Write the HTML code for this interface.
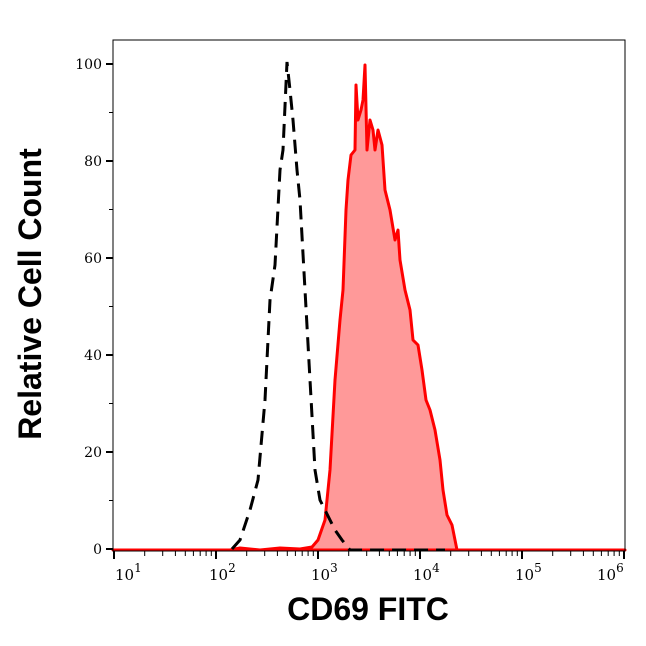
<!DOCTYPE html>
<html><head><style>body{margin:0;background:#fff}</style></head><body>
<svg width="646" height="641" xmlns="http://www.w3.org/2000/svg" font-family="DejaVu Serif, Liberation Serif, serif">
<defs>
<g id="dec" stroke="#000" stroke-width="1">
<line x1="0" y1="551" x2="0" y2="559" stroke-width="2"/>
<line x1="30.7" y1="551" x2="30.7" y2="556"/><line x1="48.7" y1="551" x2="48.7" y2="556"/>
<line x1="61.4" y1="551" x2="61.4" y2="556"/><line x1="71.3" y1="551" x2="71.3" y2="556"/>
<line x1="79.4" y1="551" x2="79.4" y2="556"/><line x1="86.2" y1="551" x2="86.2" y2="556"/>
<line x1="92.1" y1="551" x2="92.1" y2="556"/><line x1="97.3" y1="551" x2="97.3" y2="556"/>
</g>
</defs>
<rect width="646" height="641" fill="#fff"/>
<path d="M113,550 L230,550 L240,548 L260,550 L280,548 L300,549 L312,547 L318,540 L325,520 L330,470 L335,380 L340,320 L343,290 L346,210 L348,180 L351,155 L355,150 L356,85 L358,120 L361,110 L363,100 L365,65 L367,150 L370,120 L373,130 L375,150 L378,130 L382,145 L385,190 L390,210 L395,240 L398,230 L400,260 L405,290 L410,310 L413,340 L418,345 L422,370 L426,400 L430,410 L435,430 L440,460 L443,490 L447,515 L452,525 L457,550 L625,550 Z" fill="#ff9999" stroke="#ff0000" stroke-width="3" stroke-linejoin="round"/>
<path d="M232,549 L240,540 L250,510 L258,480 L265,400 L270,300 L275,265 L280,170 L283,150 L287,62 L290,90 L293,120 L297,170 L300,200 L305,290 L310,380 L315,470 L320,500 L325,510 L335,530 L342,540 L350,550 L445,550" fill="none" stroke="#000" stroke-width="3" stroke-dasharray="14,8"/>
<rect x="113" y="40" width="512" height="511" fill="none" stroke="#000" stroke-width="1"/>
<g stroke="#000" stroke-width="1">
<line x1="106" y1="549" x2="113" y2="549" stroke-width="2"/>
<line x1="106" y1="452" x2="113" y2="452" stroke-width="2"/>
<line x1="106" y1="355" x2="113" y2="355" stroke-width="2"/>
<line x1="106" y1="258" x2="113" y2="258" stroke-width="2"/>
<line x1="106" y1="161" x2="113" y2="161" stroke-width="2"/>
<line x1="106" y1="64" x2="113" y2="64" stroke-width="2"/>
<line x1="109" y1="500.5" x2="113" y2="500.5"/>
<line x1="109" y1="403.5" x2="113" y2="403.5"/>
<line x1="109" y1="306.5" x2="113" y2="306.5"/>
<line x1="109" y1="209.5" x2="113" y2="209.5"/>
<line x1="109" y1="112.5" x2="113" y2="112.5"/>
</g>
<use href="#dec" x="114"/><use href="#dec" x="216"/><use href="#dec" x="318"/>
<use href="#dec" x="420"/><use href="#dec" x="522"/>
<line x1="624" y1="551" x2="624" y2="559" stroke="#000" stroke-width="2"/>
<g font-size="14" text-anchor="end">
<text x="102" y="554">0</text><text x="102" y="457">20</text><text x="102" y="360">40</text>
<text x="102" y="263">60</text><text x="102" y="166">80</text><text x="102" y="69">100</text>
</g>
<g font-size="15">
<text x="115" y="580">10<tspan dy="-8" font-size="12">1</tspan></text>
<text x="209" y="580">10<tspan dy="-8" font-size="12">2</tspan></text>
<text x="311" y="580">10<tspan dy="-8" font-size="12">3</tspan></text>
<text x="413" y="580">10<tspan dy="-8" font-size="12">4</tspan></text>
<text x="515" y="580">10<tspan dy="-8" font-size="12">5</tspan></text>
<text x="597" y="580">10<tspan dy="-8" font-size="12">6</tspan></text>
</g>
<text x="368" y="620" font-family="Liberation Sans, sans-serif" font-weight="bold" font-size="32" text-anchor="middle">CD69 FITC</text>
<text transform="translate(41,294) rotate(-90)" font-family="Liberation Sans, sans-serif" font-weight="bold" font-size="32" text-anchor="middle">Relative Cell Count</text>
</svg>
</body></html>
